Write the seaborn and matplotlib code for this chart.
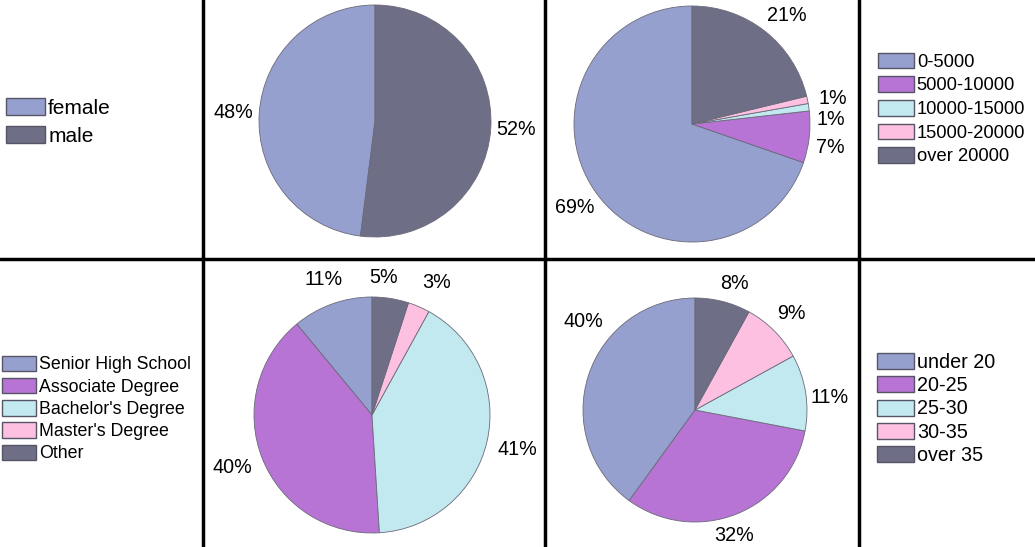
import matplotlib
matplotlib.use("Agg")
import matplotlib.pyplot as plt
import seaborn as sns
import numpy as np
from matplotlib.patches import Patch
from matplotlib.lines import Line2D

# %% data
gender_labels = ["female", "male"]
gender_values = [48, 52]

income_labels = ["0-5000", "5000-10000", "10000-15000", "15000-20000", "over 20000"]
income_values = [69, 7, 1, 1, 21]

edu_labels = ["Senior High School", "Associate Degree", "Bachelor's Degree",
              "Master's Degree", "Other"]
edu_values = [11, 40, 41, 3, 5]

age_labels = ["under 20", "20-25", "25-30", "30-35", "over 35"]
age_values = [40, 32, 11, 9, 8]

# %% style
sns.set_theme(style="white")
plt.rcParams['font.family'] = ['Liberation Sans', 'DejaVu Sans']
plt.rcParams['text.color'] = 'black'
plt.rcParams['legend.labelcolor'] = 'black'
palette = sns.color_palette(["#96a0cf", "#b874d4", "#c2e8f0", "#fdc0e0", "#6e6e87"])
gender_colors = [palette[0], palette[4]]

W, H = 1035, 547
fig = plt.figure(figsize=(W / 100, H / 100), dpi=100)
fig.patch.set_facecolor("white")


def draw_pie(values, colors, cx, cy, r, nudges, fs=14.2, d=1.22):
    ax = fig.add_axes([(cx - 1.5 * r) / W, (H - cy - 1.5 * r) / H, 3 * r / W, 3 * r / H])
    ax.set_axis_off()
    wedges, _ = ax.pie(values, colors=colors, startangle=90,
                       counterclock=True, radius=1,
                       wedgeprops=dict(edgecolor="#6a6a7a", linewidth=0.6))
    for w, v, (ox, oy) in zip(wedges, values, nudges):
        ang = np.deg2rad((w.theta1 + w.theta2) / 2)
        ax.text(d * np.cos(ang) + ox, d * np.sin(ang) + oy, f"{v}%",
                ha="center", va="center", fontsize=fs, color="black")
    ax.set_xlim(-1.5, 1.5)
    ax.set_ylim(-1.5, 1.5)
    ax.set_aspect("equal")
    return wedges


def draw_legend(labels, colors, x, y, fs, spacing, hw, hh=17):
    # hw / hh: patch size in pixels
    fpx = fs * 100 / 72
    handles = [Patch(facecolor=c, edgecolor="#555566", linewidth=1) for c in colors]
    fig.legend(handles, labels, loc="center left", bbox_to_anchor=(x / W, 1 - y / H),
               frameon=False, fontsize=fs, borderpad=0, borderaxespad=0,
               handlelength=hw / fpx, handleheight=hh / fpx, handletextpad=0.15,
               labelspacing=spacing)


draw_pie(gender_values, gender_colors, 375, 121, 116, [(0, 0), (0, 0)])
draw_pie(income_values, palette, 692, 124, 118,
         [(0, 0), (-0.04, -0.06), (-0.03, -0.137), (0, -0.03), (0.05, -0.04)])
draw_pie(edu_values, palette, 372, 415, 118,
         [(0, 0), (-0.05, 0), (0.04, -0.03), (0.06, 0), (-0.09, -0.04)])
draw_pie(age_values, palette, 695, 410, 112,
         [(0.16, 0.41), (-0.1, 0.01), (0, -0.08), (0, 0), (0.05, -0.05)])

draw_legend(gender_labels, gender_colors, 6, 122, 15, 0.38, 39, 18)
draw_legend(income_labels, palette, 878, 109, 13.2, 0.3, 36)
draw_legend(edu_labels, palette, 2, 409, 12.8, 0.25, 34)
draw_legend(age_labels, palette, 877, 409, 14.2, 0.22, 37)

# grid lines between the cells
for x in [203, 545, 859]:
    fig.add_artist(Line2D([x / W, x / W], [0, 1], transform=fig.transFigure,
                          color="black", linewidth=2.5))
fig.add_artist(Line2D([0, 1], [1 - 259 / H, 1 - 259 / H], transform=fig.transFigure,
                      color="black", linewidth=2.5))

fig.savefig("out.png", dpi=100, facecolor="white")
